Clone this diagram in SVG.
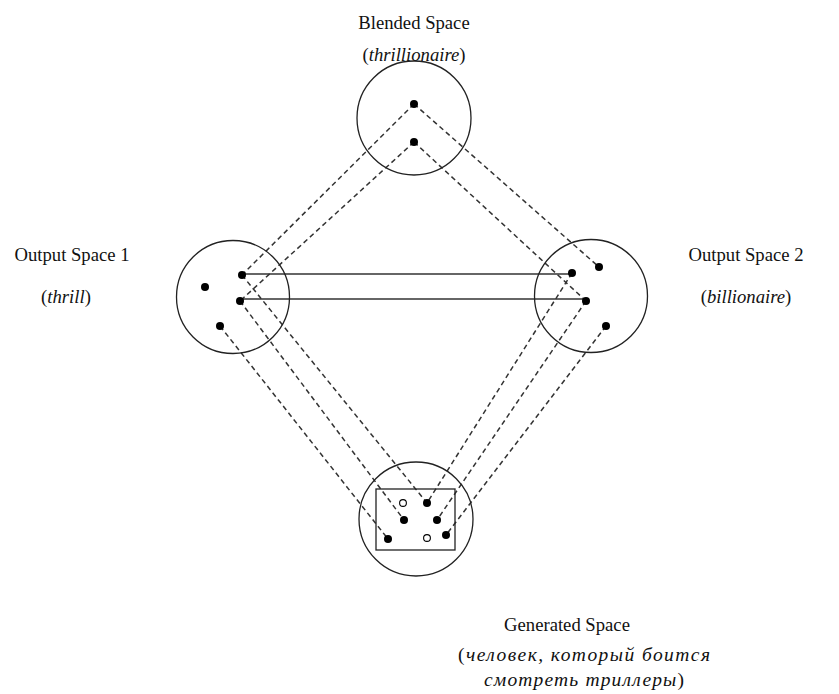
<svg xmlns="http://www.w3.org/2000/svg" width="839" height="694" viewBox="0 0 839 694">
<style>
.space{fill:none;stroke:#222;stroke-width:1.3}
.dot{fill:#000}
.hollow{fill:#fff;stroke:#000;stroke-width:1.1}
.dash{stroke:#333;stroke-width:1.5;stroke-dasharray:5 3.5;fill:none}
.solid{stroke:#333;stroke-width:1.6;fill:none}
text{font-family:'Liberation Serif','DejaVu Serif',serif;font-size:18.67px;fill:#111;text-anchor:middle}
.it{font-style:italic}
.ru{font-size:19.5px}
</style>
<rect width="839" height="694" fill="#fff"/>
<g id="connectors">
<line class="dash" x1="414" y1="104" x2="242" y2="275"/>
<line class="dash" x1="414" y1="142" x2="240" y2="301"/>
<line class="dash" x1="414" y1="104" x2="599" y2="267"/>
<line class="dash" x1="414" y1="142" x2="586" y2="301"/>
<line class="dash" x1="242" y1="275" x2="427" y2="503"/>
<line class="dash" x1="240" y1="301" x2="404" y2="520"/>
<line class="dash" x1="220" y1="326" x2="388" y2="539"/>
<line class="dash" x1="572" y1="273" x2="427" y2="503"/>
<line class="dash" x1="586" y1="301" x2="437" y2="520"/>
<line class="dash" x1="606" y1="326" x2="446" y2="535"/>
<line class="solid" x1="242" y1="274" x2="572" y2="274"/>
<line class="solid" x1="240" y1="299" x2="586" y2="299"/>
</g>
<g id="blended">
<circle class="space" cx="414" cy="118" r="57"/>
<circle class="dot" cx="414" cy="104" r="4"/>
<circle class="dot" cx="414" cy="142" r="4"/>
<text x="414" y="29">Blended Space</text>
<text x="414" y="61">(<tspan class="it">thrillionaire</tspan>)</text>
</g>
<g id="output1">
<circle class="space" cx="233" cy="297" r="56.5"/>
<circle class="dot" cx="242" cy="275" r="4"/>
<circle class="dot" cx="205" cy="287" r="4"/>
<circle class="dot" cx="240" cy="301" r="4"/>
<circle class="dot" cx="220" cy="326" r="4"/>
<text x="72" y="261">Output Space 1</text>
<text x="66" y="303">(<tspan class="it">thrill</tspan>)</text>
</g>
<g id="output2">
<circle class="space" cx="591" cy="296" r="56.5"/>
<circle class="dot" cx="572" cy="273" r="4"/>
<circle class="dot" cx="599" cy="267" r="4"/>
<circle class="dot" cx="586" cy="301" r="4"/>
<circle class="dot" cx="606" cy="326" r="4"/>
<text x="746" y="261">Output Space 2</text>
<text x="746" y="303">(<tspan class="it">billionaire</tspan>)</text>
</g>
<g id="generated">
<circle class="space" cx="416" cy="519" r="57"/>
<rect class="space" x="376" y="489" width="79" height="61"/>
<circle class="hollow" cx="403" cy="503" r="3.4"/>
<circle class="dot" cx="427" cy="503" r="4"/>
<circle class="dot" cx="404" cy="520" r="4"/>
<circle class="dot" cx="437" cy="520" r="4"/>
<circle class="dot" cx="388" cy="539" r="4"/>
<circle class="hollow" cx="427" cy="538" r="3.4"/>
<circle class="dot" cx="446" cy="535" r="4"/>
<text x="567" y="631">Generated Space</text>
<text class="ru" x="584" y="661" textLength="252" lengthAdjust="spacing">(<tspan class="it">человек, который боится</tspan></text>
<text class="ru" x="584" y="686" textLength="200" lengthAdjust="spacing"><tspan class="it">смотреть триллеры</tspan>)</text>
</g>
</svg>
